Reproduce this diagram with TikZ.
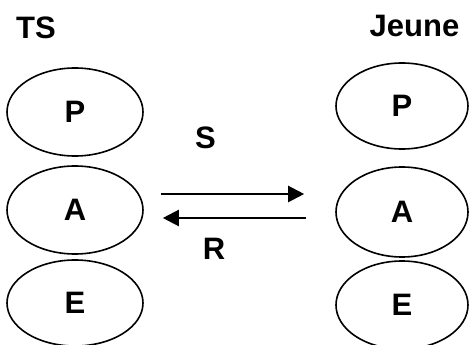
\documentclass[tikz,border=0pt]{standalone}
\usepackage{fontspec}
\setmainfont{Liberation Sans}
\usetikzlibrary{shapes.geometric,arrows.meta}
\begin{document}
\begin{tikzpicture}[x=1pt,y=-1pt,
  lbl/.style={font=\fontsize{31}{37}\selectfont\bfseries, inner sep=0pt},
  level/.style={ellipse, draw, line width=1.6pt, inner sep=0pt,
    font=\fontsize{31}{37}\selectfont\bfseries},
  flow/.style={line width=2.2pt, -{Triangle[length=16pt,width=16pt]}}]
\useasboundingbox (0,0) rectangle (469,345);
% column titles
\node[lbl, anchor=base] (ts) at (36,39) {TS};
\node[lbl, anchor=base] (jeune) at (414.5,37) {Jeune};
% ego states of TS
\node[level, minimum width=136pt, minimum height=88pt] (pL) at (75,112) {P};
\node[level, minimum width=136pt, minimum height=88pt] (aL) at (75,210) {A};
\node[level, minimum width=136pt, minimum height=86pt] (eL) at (75,303) {E};
% ego states of Jeune
\node[level, minimum width=132pt, minimum height=86pt] (pR) at (402,106) {P};
\node[level, minimum width=132pt, minimum height=90pt] (aR) at (402,212) {A};
\node[level, minimum width=132pt, minimum height=88pt] (eR) at (402,305) {E};
% transaction arrows between the adult states
\coordinate (s1) at ([xshift=17pt]aL.east |- 0,194);
\coordinate (s2) at ([xshift=-31pt]aR.west |- 0,194);
\coordinate (r1) at ([xshift=-29pt]aR.west |- 0,218);
\coordinate (r2) at ([xshift=19pt]aL.east |- 0,218);
\draw[flow] (s1) -- (s2);
\draw[flow] (r1) -- (r2);
\node[lbl, anchor=base] (s) at (205.5,149) {S};
\node[lbl, anchor=base] (r) at (214,259) {R};
\end{tikzpicture}
\end{document}
